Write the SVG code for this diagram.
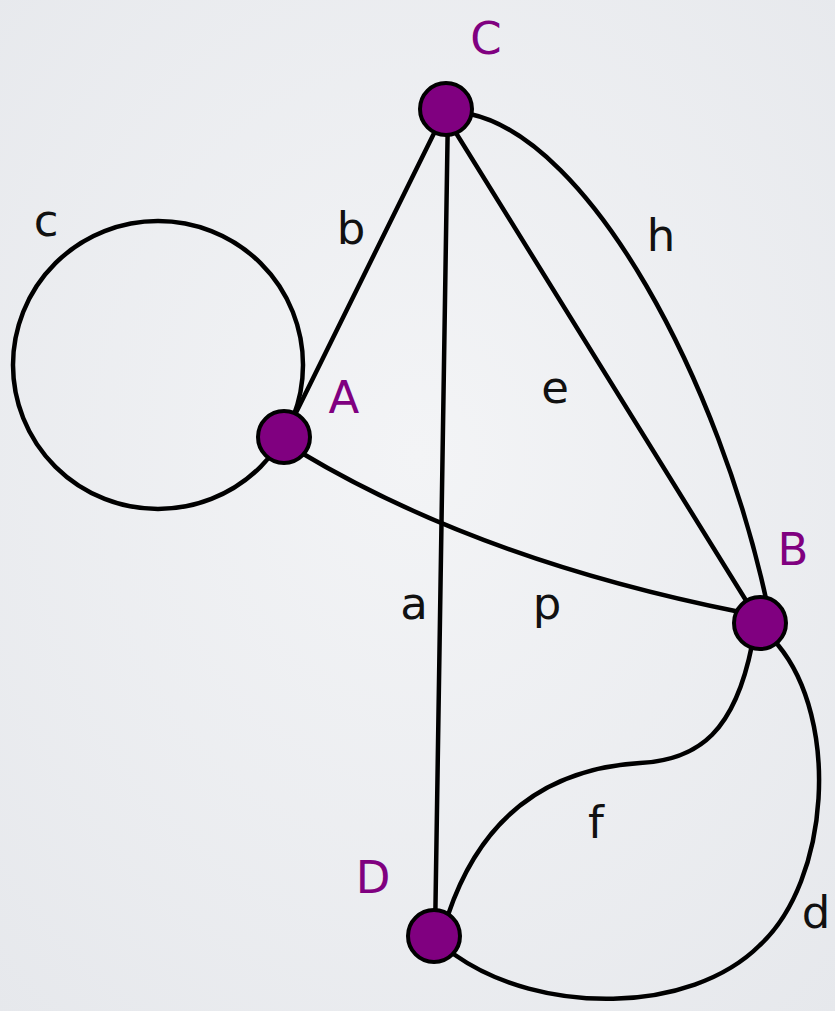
<svg xmlns="http://www.w3.org/2000/svg" width="835" height="1011" viewBox="0 0 835 1011">
  <defs>
    <radialGradient id="bg" cx="50%" cy="45%" r="75%">
      <stop offset="0" stop-color="#f3f4f6"/>
      <stop offset="1" stop-color="#e6e8ec"/>
    </radialGradient>
    <style>
      .edge { fill: none; stroke: #000; stroke-width: 4.5; stroke-linecap: round; }
      .node { fill: #800080; stroke: #000; stroke-width: 4; }
      .elabel { font-family: "DejaVu Sans", "Liberation Sans", sans-serif; font-size: 45px; fill: #111; text-anchor: middle; }
      .nlabel { font-family: "DejaVu Sans", "Liberation Sans", sans-serif; font-size: 45px; fill: #800080; text-anchor: middle; }
    </style>
  </defs>
  <rect width="835" height="1011" fill="url(#bg)"/>
  <g id="connectors">
    <ellipse id="edge-c" class="edge" cx="158" cy="365" rx="145" ry="144"/>
    <line id="edge-b" class="edge" x1="284" y1="437" x2="446" y2="109"/>
    <line id="edge-a" class="edge" x1="448" y1="109" x2="435" y2="936"/>
    <line id="edge-e" class="edge" x1="443" y1="112" x2="760" y2="623"/>
    <path id="edge-h" class="edge" d="M 470,114 C 590,140 720,380 768,608"/>
    <path id="edge-p" class="edge" d="M 300,452 Q 480,560 740,612"/>
    <path id="edge-f" class="edge" d="M 752,645 C 735,730 700,760 640,763 C 560,768 485,805 448,915"/>
    <path id="edge-d" class="edge" d="M 778,645 C 840,720 830,880 760,945 C 690,1015 540,1015 455,955"/>
    <text class="elabel" x="46" y="236">c</text>
    <text class="elabel" x="351" y="244">b</text>
    <text class="elabel" x="661" y="251">h</text>
    <text class="elabel" x="555" y="403">e</text>
    <text class="elabel" x="414" y="619">a</text>
    <text class="elabel" x="547" y="619">p</text>
    <text class="elabel" x="596" y="838">f</text>
    <text class="elabel" x="816" y="928">d</text>
  </g>
  <g id="node-C">
    <circle class="node" cx="446" cy="109" r="26"/>
    <text class="nlabel" x="486" y="54">C</text>
  </g>
  <g id="node-A">
    <circle class="node" cx="284" cy="437" r="26"/>
    <text class="nlabel" x="344" y="413">A</text>
  </g>
  <g id="node-B">
    <circle class="node" cx="760" cy="623" r="26"/>
    <text class="nlabel" x="793" y="565">B</text>
  </g>
  <g id="node-D">
    <circle class="node" cx="434" cy="936" r="26"/>
    <text class="nlabel" x="373" y="893">D</text>
  </g>
</svg>
